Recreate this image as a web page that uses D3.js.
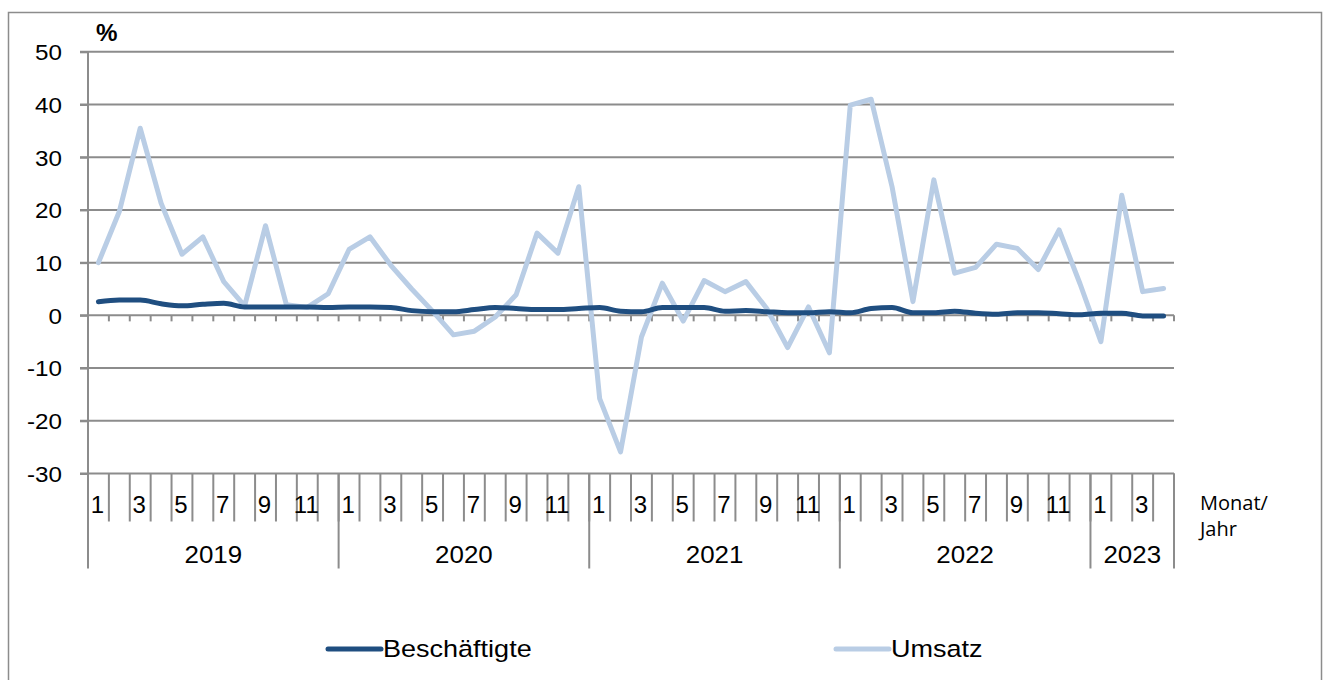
<!doctype html>
<html><head><meta charset="utf-8"/>
<title>Beschäftigte und Umsatz</title>
<style>
  html, body { margin:0; padding:0; background:#fff; }
  svg { display:block; font-family:"Liberation Sans", Arial, sans-serif; }
  .grid line { stroke:#8c8c8c; stroke-width:2; }
  .axis line, .axis path { stroke:#8c8c8c; stroke-width:2; fill:none; }
  text { fill:#000; }
</style>
</head><body>
<svg id="chart" width="1325" height="680"></svg>
<script src="https://cdn.jsdelivr.net/npm/d3@7"></script>
<script>
// Veränderung gegenüber Vorjahresmonat in %, Jan 2019 .. Apr 2023
const years = [2019, 2020, 2021, 2022, 2023];
const monthsPerYear = [12, 12, 12, 12, 4];
const yTicks = [50, 40, 30, 20, 10, 0, -10, -20, -30];

const beschaeftigte = [
  2.6, 2.9, 2.9, 2.2, 1.8, 2.1, 2.3, 1.6, 1.6, 1.6, 1.6, 1.5,
  1.6, 1.6, 1.5, 0.9, 0.7, 0.7, 1.1, 1.5, 1.3, 1.1, 1.1, 1.3,
  1.5, 0.8, 0.7, 1.5, 1.5, 1.5, 0.8, 0.9, 0.7, 0.5, 0.5, 0.7,
  0.5, 1.3, 1.5, 0.5, 0.5, 0.8, 0.4, 0.2, 0.5, 0.5, 0.3, 0.1,
  0.4, 0.4, -0.1, -0.1
];
const umsatz = [
  10.0, 19.7, 35.5, 21.3, 11.6, 14.9, 6.4, 1.8, 17.0, 2.0, 1.5, 4.1,
  12.5, 14.9, 9.5, 5.0, 0.8, -3.7, -3.0, -0.3, 3.9, 15.6, 11.8, 24.4,
  -15.8, -25.9, -4.1, 6.1, -1.1, 6.6, 4.5, 6.4, 1.3, -6.1, 1.6, -7.1,
  39.9, 41.0, 24.4, 2.6, 25.7, 8.0, 9.1, 13.5, 12.7, 8.7, 16.2, 6.0,
  -5.0, 22.8, 4.5, 5.1
];

const months = [];
years.forEach((yr, i) => { for (let m = 1; m <= monthsPerYear[i]; m++) months.push({ year: yr, month: m, i: months.length }); });
const n = months.length;

const svg = d3.select("#chart");
const plotLeft = 88, plotRight = 1174, plotTop = 51.8, plotBottom = 473.5;

const x = d3.scaleLinear().domain([0, n]).range([plotLeft, plotRight]);
const y = d3.scaleLinear().domain([-30, 50]).range([plotBottom, plotTop]);

// the source picture is a bit wider than tall, so stretch text horizontally
const place = (fx, fy, sx) => (d, i) => `translate(${fx(d, i)},${fy(d, i)}) scale(${sx},1)`;

// outer frame
svg.append("rect").attr("x", 8.5).attr("y", 12.5).attr("width", 1313).attr("height", 700)
  .attr("fill", "none").attr("stroke", "#8c8c8c").attr("stroke-width", 1.5);

// gridlines
svg.append("g").attr("class", "grid").selectAll("line").data(yTicks).join("line")
  .attr("x1", plotLeft - 8).attr("x2", plotRight).attr("y1", d => y(d)).attr("y2", d => y(d));

// y axis
const yAxis = d3.axisLeft(y).tickValues(yTicks).tickSize(8).tickFormat(d => String(d));
const gy = svg.append("g").attr("class", "axis").attr("transform", `translate(${plotLeft},0)`).call(yAxis);
gy.attr("font-family", null).attr("font-size", null);
gy.selectAll("text").attr("x", null).attr("dy", "0.36em").style("font-size", "22px")
  .attr("transform", "translate(-26,0) scale(1.1,1)");
gy.select(".domain").attr("d", `M0,${plotTop}V${plotBottom}`);

svg.append("text").attr("transform", "translate(96,41) scale(1.05,1)")
  .style("font-size", "23px").style("font-weight", "bold").text("%");

// ticks at zero line
svg.append("g").attr("class", "axis").selectAll("line").data(d3.range(1, n + 1)).join("line")
  .attr("x1", d => x(d)).attr("x2", d => x(d)).attr("y1", y(0)).attr("y2", y(0) + 6);

// category axis: month boundaries
svg.append("g").attr("class", "axis").selectAll("line").data(d3.range(0, n + 1)).join("line")
  .attr("x1", d => x(d)).attr("x2", d => x(d)).attr("y1", plotBottom).attr("y2", plotBottom + 48);

// year boundaries
const yearStarts = [];
let acc = 0;
monthsPerYear.forEach(c => { yearStarts.push(acc); acc += c; });
yearStarts.push(acc);
svg.append("g").attr("class", "axis").selectAll("line").data(yearStarts).join("line")
  .attr("x1", d => x(d)).attr("x2", d => x(d)).attr("y1", plotBottom).attr("y2", plotBottom + 95);

// month labels (odd months)
svg.append("g").selectAll("text").data(months.filter(d => d.month % 2 === 1)).join("text")
  .attr("text-anchor", "middle").style("font-size", "24px")
  .attr("transform", place(d => x(d.i + 0.5) - 1, () => 513, 1.0)).text(d => d.month);

// year labels
svg.append("g").selectAll("text").data(years).join("text")
  .attr("text-anchor", "middle").style("font-size", "24px")
  .attr("transform", place((d, i) => (x(yearStarts[i]) + x(yearStarts[i + 1])) / 2, () => 563, 1.08)).text(d => d);

svg.append("text").attr("x", 1200).attr("y", 510).style("font-family", "'Open Sans', sans-serif").style("font-size", "20px").text("Monat/");
svg.append("text").attr("x", 1200).attr("y", 536).style("font-family", "'Open Sans', sans-serif").style("font-size", "20px").text("Jahr");

// series
const lineU = d3.line().x((d, i) => x(i + 0.5)).y(d => y(d));
const lineB = d3.line().x((d, i) => x(i + 0.5)).y(d => y(d)).curve(d3.curveMonotoneX);

svg.append("path").datum(umsatz).attr("d", lineU).attr("fill", "none")
  .attr("stroke", "#b9cde5").attr("stroke-width", 5).attr("stroke-linejoin", "round").attr("stroke-linecap", "round");
svg.append("path").datum(beschaeftigte).attr("d", lineB).attr("fill", "none")
  .attr("stroke", "#1f4e80").attr("stroke-width", 5).attr("stroke-linejoin", "round").attr("stroke-linecap", "round");

// legend
const legend = [
  { name: "Beschäftigte", color: "#1f4e80", x: 328 },
  { name: "Umsatz", color: "#b9cde5", x: 836 }
];
const lg = svg.append("g").selectAll("g").data(legend).join("g").attr("transform", d => `translate(${d.x},649)`);
lg.append("line").attr("x1", 0).attr("x2", 53).attr("stroke", d => d.color).attr("stroke-width", 5).attr("stroke-linecap", "round");
lg.append("text").attr("dy", "0.36em").style("font-size", "23.5px")
  .attr("transform", "translate(55,0) scale(1.15,1)").text(d => d.name);
</script>
</body></html>
